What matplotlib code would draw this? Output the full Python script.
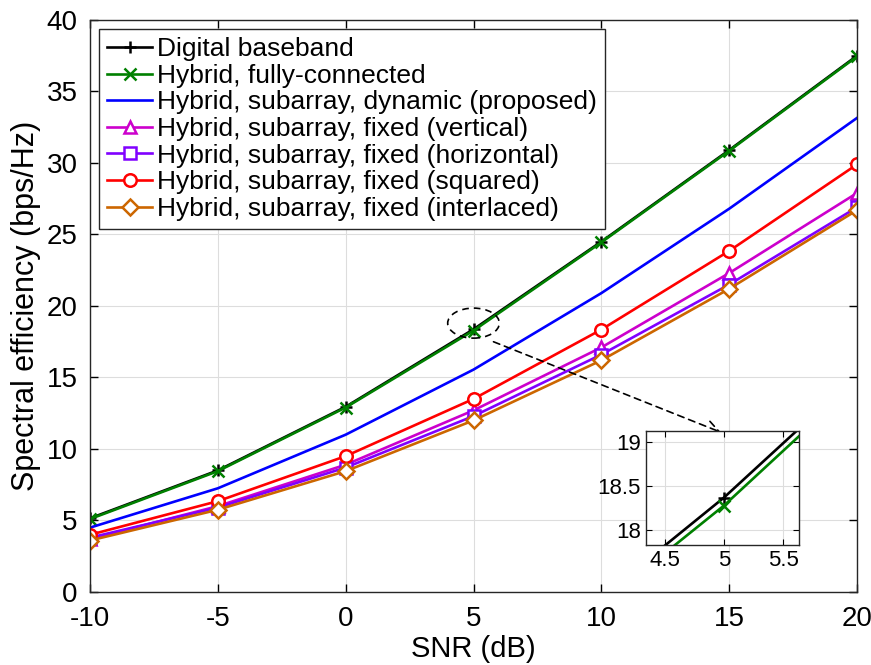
import matplotlib
matplotlib.use("Agg")
import matplotlib.pyplot as plt
from matplotlib.patches import Ellipse

plt.rcParams.update({
    "font.family": "Liberation Sans",
    "font.size": 20,
    "xtick.direction": "in",
    "ytick.direction": "in",
    "xtick.top": True,
    "ytick.right": True,
    "axes.edgecolor": "#262626",
    "axes.linewidth": 1.0,
    "axes.unicode_minus": False,
})

# datos
snr = [-10, -5, 0, 5, 10, 15, 20]
digital = [5.15, 8.5, 12.95, 18.37, 24.5, 30.9, 37.5]
fully = [5.1, 8.45, 12.9, 18.28, 24.45, 30.85, 37.45]
dynamic = [4.5, 7.25, 11.0, 15.55, 20.9, 26.8, 33.15]
vertical = [3.7, 6.0, 8.9, 12.7, 17.1, 22.3, 27.9]
horizontal = [3.8, 5.9, 8.7, 12.3, 16.6, 21.5, 26.9]
squared = [4.0, 6.35, 9.5, 13.5, 18.35, 23.85, 29.9]
interlaced = [3.6, 5.75, 8.45, 12.0, 16.2, 21.2, 26.7]

xticks = [-10, -5, 0, 5, 10, 15, 20]
yticks = [0, 5, 10, 15, 20, 25, 30, 35, 40]

series = [
    ("Digital baseband", digital, "k", "+"),
    ("Hybrid, fully-connected", fully, "#008000", "x"),
    ("Hybrid, subarray, dynamic (proposed)", dynamic, "#0000FF", None),
    ("Hybrid, subarray, fixed (vertical)", vertical, "#CC00CC", "^"),
    ("Hybrid, subarray, fixed (horizontal)", horizontal, "#8000FF", "s"),
    ("Hybrid, subarray, fixed (squared)", squared, "#FF0000", "o"),
    ("Hybrid, subarray, fixed (interlaced)", interlaced, "#CC6600", "D"),
]

fig = plt.figure(figsize=(8.71, 6.65), dpi=100)
ax = fig.add_axes([0.1033, 0.1098, 0.8807, 0.8602])

for label, vals, col, mk in series:
    kw = dict(color=col, lw=1.9, label=label)
    if mk is not None:
        kw.update(marker=mk, ms=9 if mk not in ("D", "s") else 8,
                  mew=1.8, mfc="white" if mk not in ("+", "x") else col,
                  mec=col)
    ax.plot(snr, vals, **kw)

ax.set_xlim(-10, 20)
ax.set_ylim(0, 40)
ax.set_xticks(xticks)
ax.set_yticks(yticks)
ax.grid(True, color="#DDDDDD", lw=0.8)
ax.set_axisbelow(True)
ax.tick_params(length=6, width=1.0, labelsize=20)
ax.tick_params(axis="y", pad=9)
ax.tick_params(axis="x", pad=10)
ax.set_xlabel("SNR (dB)", fontsize=21, labelpad=2)
ax.set_ylabel("Spectral efficiency (bps/Hz)", fontsize=22, labelpad=4)

leg = ax.legend(loc="upper left", fontsize=19, handlelength=1.7,
                handletextpad=0.2, labelspacing=0.1, borderpad=0.3,
                borderaxespad=0.35, fancybox=False, framealpha=1)
leg.get_frame().set_edgecolor("#262626")
leg.get_frame().set_linewidth(1.0)

# elipse y flecha hacia el zoom
ax.add_patch(Ellipse((5, 18.8), 2.02, 2.1, fill=False, ls=(0, (4, 3)),
                     lw=1.2, color="k", zorder=5))
ax.annotate("", xy=(14.77, 11.1), xytext=(5.68, 17.57),
            arrowprops=dict(arrowstyle="->", ls=(0, (4, 3)), lw=1.2,
                            color="k", mutation_scale=22))

# inset
axi = fig.add_axes([0.742, 0.181, 0.175, 0.171])
axi.plot(snr, digital, color="k", lw=1.9, marker="+", ms=9, mew=1.8)
axi.plot(snr, fully, color="#008000", lw=1.9, marker="x", ms=9, mew=1.8)
axi.set_xlim(4.345, 5.63)
axi.set_ylim(17.84, 19.12)
axi.set_xticks([4.5, 5, 5.5])
axi.set_yticks([18, 18.5, 19])
axi.set_xticklabels(["4.5", "5", "5.5"])
axi.set_yticklabels(["18", "18.5", "19"])
axi.grid(True, color="#DDDDDD", lw=0.8)
axi.tick_params(length=4, labelsize=16, pad=4)

fig.savefig("out.png", dpi=100)
